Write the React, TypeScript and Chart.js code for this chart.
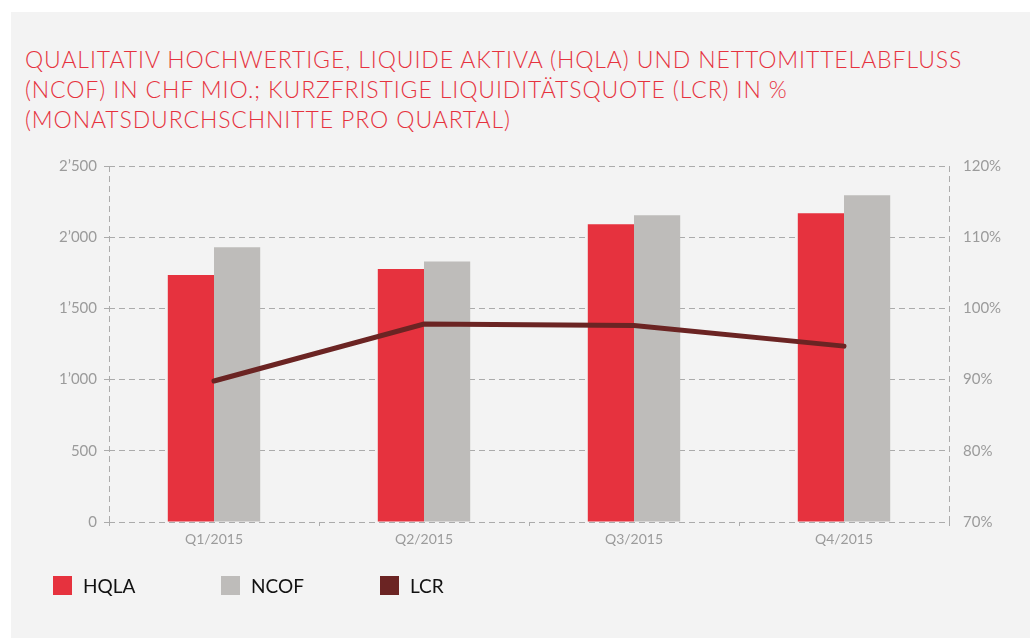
import React, { useEffect, useRef } from "react";
import { Chart, registerables } from "chart.js";

Chart.register(...registerables);

const categories = ["Q1/2015", "Q2/2015", "Q3/2015", "Q4/2015"];
const hqla = [1734, 1776, 2091, 2168];
const ncof = [1930, 1830, 2154, 2294];
const lcr = [89.8, 97.8, 97.6, 94.7];
const titleLines = [
  "QUALITATIV HOCHWERTIGE, LIQUIDE AKTIVA (HQLA) UND NETTOMITTELABFLUSS",
  "(NCOF) IN CHF MIO.; KURZFRISTIGE LIQUIDITÄTSQUOTE (LCR) IN %",
  "(MONATSDURCHSCHNITTE PRO QUARTAL)",
];
const legendItems = [
  { label: "HQLA", color: "#e6323e", left: 53 },
  { label: "NCOF", color: "#bebcba", left: 221 },
  { label: "LCR", color: "#6b2423", left: 380 },
];

const FONT = "Lato, 'Open Sans', 'DejaVu Sans', sans-serif";
const GRID = "#ababab";
const TICK_TEXT = "#9b9b9b";

function fmtThousands(v: number) {
  const s = String(Math.round(v));
  return s.replace(/\B(?=(\d{3})+(?!\d))/g, "\u2019");
}

export default function App() {
  const canvasRef = useRef<HTMLCanvasElement | null>(null);

  useEffect(() => {
    const ctx = canvasRef.current;
    if (!ctx) return;
    const chart = new Chart(ctx, {
      type: "bar",
      data: {
        labels: categories,
        datasets: [
          {
            type: "line",
            label: "LCR",
            data: lcr,
            yAxisID: "y1",
            borderColor: "#6b2423",
            backgroundColor: "#6b2423",
            borderWidth: 5,
            pointRadius: 0,
            tension: 0,
            borderCapStyle: "round",
            order: 0,
          } as any,
          {
            type: "bar",
            label: "HQLA",
            data: hqla,
            yAxisID: "y",
            backgroundColor: "#e6323e",
            categoryPercentage: 0.44,
            barPercentage: 1.0,
            order: 1,
          },
          {
            type: "bar",
            label: "NCOF",
            data: ncof,
            yAxisID: "y",
            backgroundColor: "#bebcba",
            categoryPercentage: 0.44,
            barPercentage: 1.0,
            order: 1,
          },
        ],
      },
      options: {
        animation: false,
        responsive: false,
        maintainAspectRatio: false,
        layout: { padding: { top: 166, bottom: 86, left: 0, right: 0 } },
        plugins: {
          legend: { display: false },
          tooltip: { enabled: false },
          title: { display: false },
        },
        scales: {
          x: {
            offset: true,
            border: { display: false, dash: [6, 4] },
            grid: {
              offset: true,
              drawOnChartArea: true,
              drawTicks: true,
              tickLength: 4,
              lineWidth: 1,
              tickColor: GRID,
              tickBorderDash: [],
              color: (c: any) =>
                c.index === 0 || c.index === undefined ? GRID : "rgba(0,0,0,0)",
            },
            ticks: {
              color: TICK_TEXT,
              font: { family: FONT, size: 14 },
              padding: 5,
            },
            afterFit: (s: any) => {
              s.height = 30;
            },
          },
          y: {
            position: "left",
            min: 0,
            max: 2500,
            border: { display: false, dash: [6, 4] },
            grid: {
              color: GRID,
              drawTicks: true,
              tickLength: 5,
              tickColor: GRID,
              tickBorderDash: [],
            },
            ticks: {
              stepSize: 500,
              color: TICK_TEXT,
              font: { family: FONT, size: 15 },
              padding: 7,
              callback: (v: any) => fmtThousands(Number(v)),
            },
            afterFit: (s: any) => {
              s.width = 109;
            },
          },
          y1: {
            position: "right",
            min: 70,
            max: 120,
            border: { display: false },
            grid: { display: false, drawOnChartArea: false, drawTicks: false },
            ticks: {
              stepSize: 10,
              color: TICK_TEXT,
              font: { family: FONT, size: 15 },
              padding: 14,
              callback: (v: any) => `${v}%`,
            },
            afterFit: (s: any) => {
              s.width = 81;
            },
          },
        },
      },
    });
    return () => chart.destroy();
  }, []);

  return (
    <div
      style={{
        position: "absolute",
        left: 0,
        top: 0,
        width: 1030,
        height: 638,
        background: "#ffffff",
        overflow: "hidden",
      }}
    >
      <div
        style={{
          position: "absolute",
          left: 11,
          top: 12,
          width: 1019,
          height: 626,
          background: "#f3f3f3",
        }}
      />
      <div
        style={{
          position: "absolute",
          left: 25,
          top: 44,
          color: "#e6323e",
          fontFamily: FONT,
          fontSize: 23,
          fontWeight: 300,
          letterSpacing: "0.9px",
          lineHeight: "30px",
          whiteSpace: "nowrap",
        }}
      >
        {titleLines.map((t, i) => (
          <div key={i}>{t}</div>
        ))}
      </div>
      <canvas
        ref={canvasRef}
        width={1030}
        height={638}
        style={{ position: "absolute", left: 0, top: 0, width: 1030, height: 638 }}
      />
      {legendItems.map((it) => (
        <div
          key={it.label}
          style={{
            position: "absolute",
            left: it.left,
            top: 576,
            height: 19,
            display: "flex",
            alignItems: "center",
            fontFamily: FONT,
            fontSize: 19,
            color: "#111111",
          }}
        >
          <span
            style={{
              display: "inline-block",
              width: 19,
              height: 19,
              background: it.color,
              marginRight: 11,
            }}
          />
          <span>{it.label}</span>
        </div>
      ))}
    </div>
  );
}
